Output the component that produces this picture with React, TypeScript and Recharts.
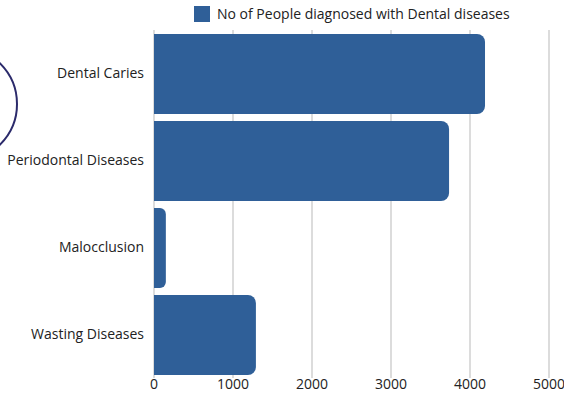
import React from 'react';
import { BarChart, Bar, XAxis, YAxis, CartesianGrid, Legend } from 'recharts';

const categories = ['Dental Caries', 'Periodontal Diseases', 'Malocclusion', 'Wasting Diseases'];
const diagnosed = [4190, 3735, 150, 1290];
const xTicks = [0, 1000, 2000, 3000, 4000, 5000];
const seriesName = 'No of People diagnosed with Dental diseases';

const BAR_COLOR = '#2f5f98';
const FONT = '"Open Sans", "Noto Sans", sans-serif';

const data = categories.map((name, i) => ({ name, value: diagnosed[i] }));

const LegendContent = () => (
  <div style={{ display: 'flex', alignItems: 'center', fontFamily: FONT, fontSize: 14, color: '#222', height: 17 }}>
    <span style={{ width: 16, height: 16, background: BAR_COLOR, display: 'inline-block', marginRight: 7 }} />
    <span>{seriesName}</span>
  </div>
);

export default function App() {
  return (
    <div style={{ position: 'absolute', left: 0, top: 0, width: 564, height: 397, background: '#fff', overflow: 'hidden' }}>
      {/* decorative circle peeking in from the left */}
      <div
        style={{
          position: 'absolute', left: -98, top: 46, width: 112, height: 112,
          borderRadius: '50%', border: '2px solid #2b2a6b',
        }}
      />
      <BarChart
        width={564}
        height={397}
        data={data}
        layout="vertical"
        margin={{ top: 13, right: 15, bottom: 0, left: 0 }}
        barSize={80}
      >
        <CartesianGrid horizontal={false} stroke="#d0d0d0" strokeWidth={1.5} />
        <XAxis
          type="number"
          domain={[0, 5000]}
          ticks={xTicks}
          axisLine={false}
          tickLine={false}
          tickSize={0}
          tickMargin={1}
          height={19}
          tick={{ fontFamily: FONT, fontSize: 14, fill: '#222' }}
        />
        <YAxis
          type="category"
          dataKey="name"
          width={154}
          axisLine={false}
          tickLine={false}
          tickMargin={4}
          tick={{ fontFamily: FONT, fontSize: 14, fill: '#222' }}
        />
        <Legend
          verticalAlign="top"
          content={<LegendContent />}
          wrapperStyle={{ position: 'absolute', top: 5, left: 194, width: 'auto', height: 17 }}
        />
        <Bar dataKey="value" name={seriesName} fill={BAR_COLOR} radius={[0, 8, 8, 0]} isAnimationActive={false} />
      </BarChart>
    </div>
  );
}
